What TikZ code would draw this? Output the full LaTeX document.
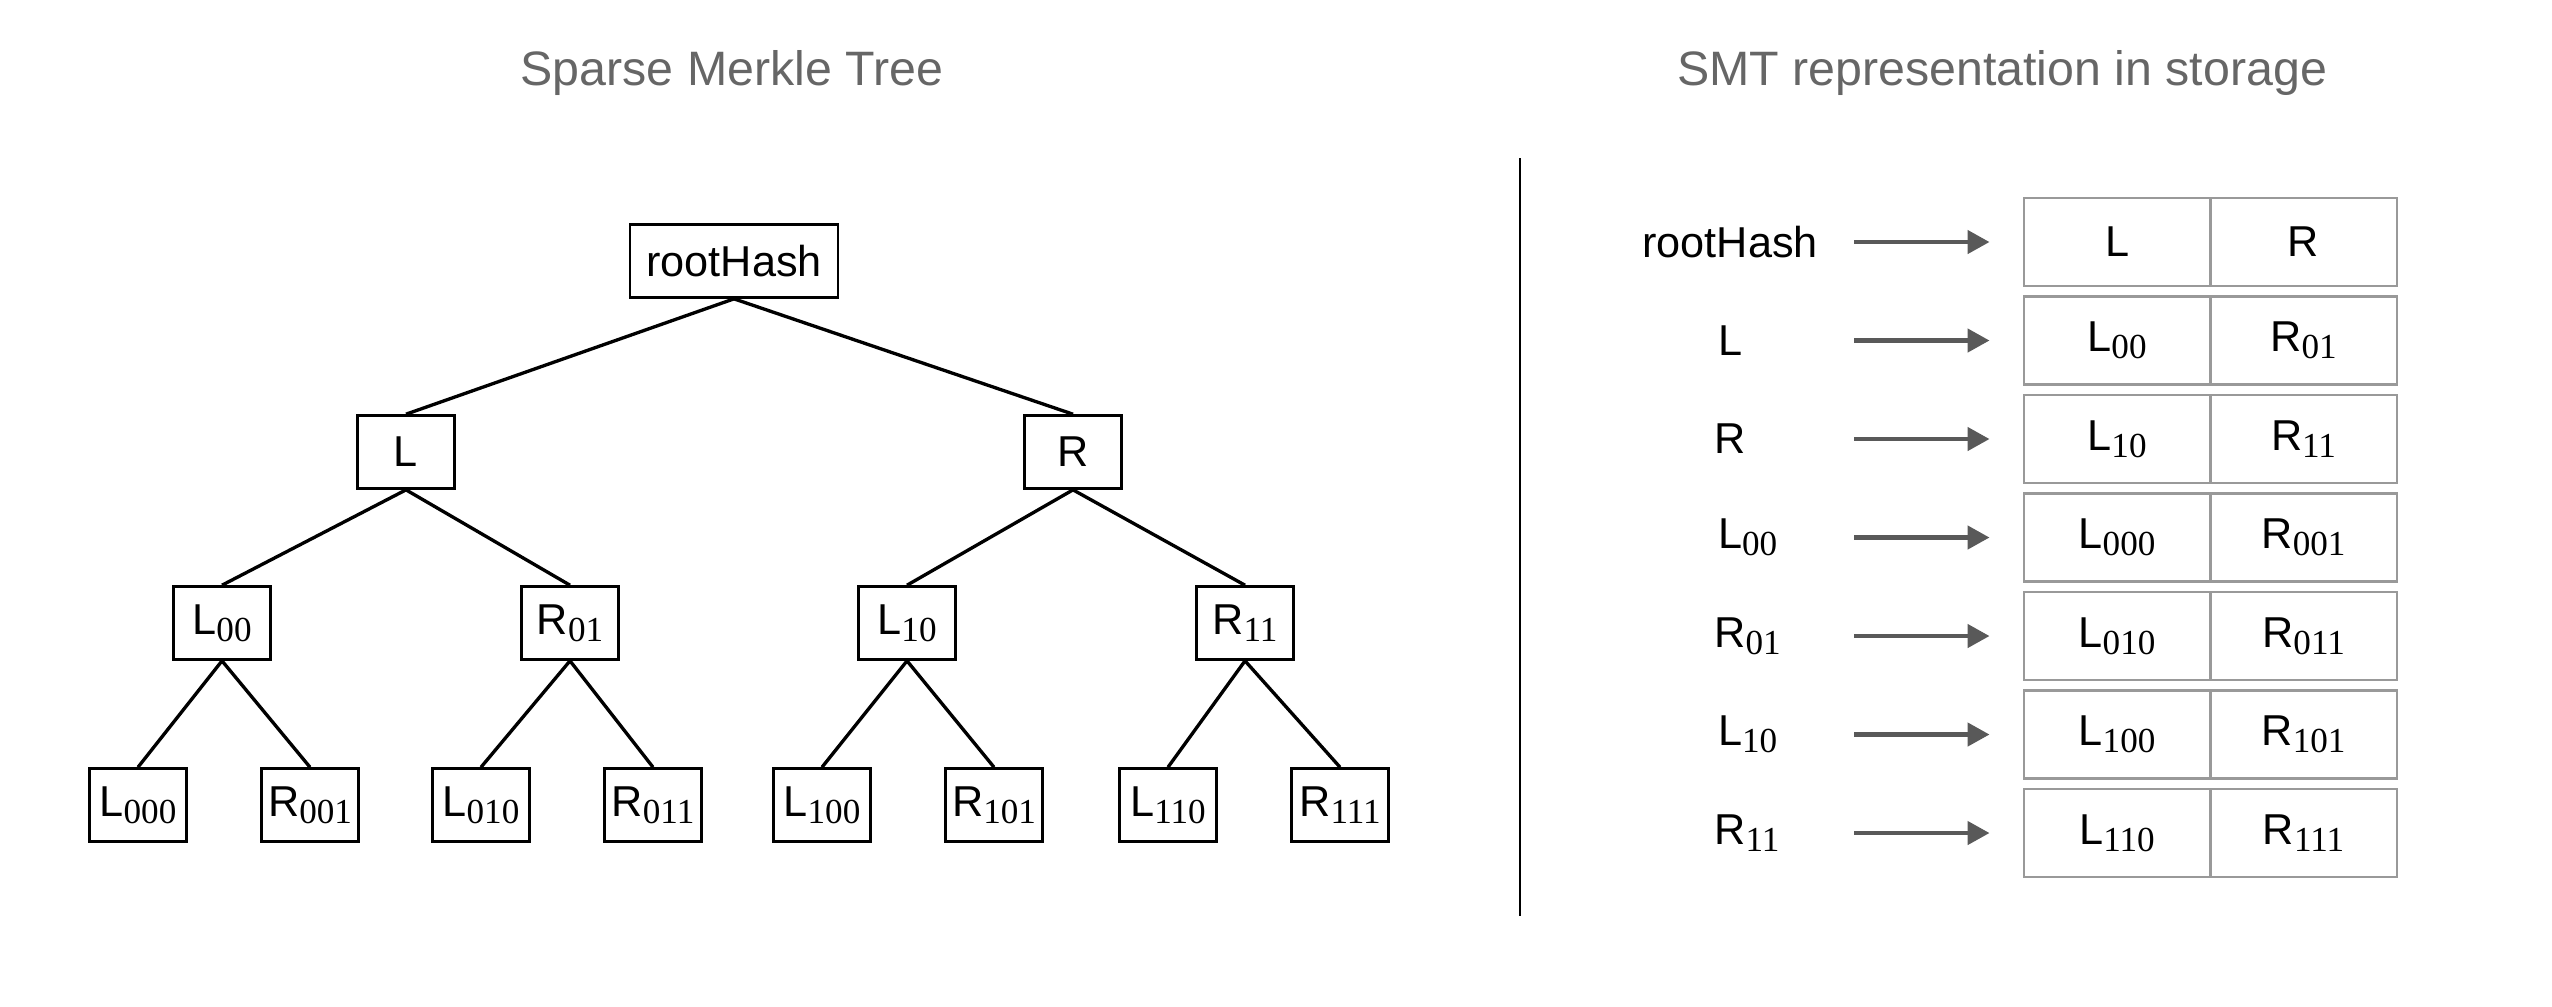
\documentclass[tikz,border=0pt]{standalone}
\usepackage{fontspec}
\setmainfont{Liberation Sans}
\newfontfamily\subserif{Liberation Serif}
\newcommand{\ix}[1]{\raisebox{-2pt}{\subserif\fontsize{10}{11}\selectfont #1}}
\usetikzlibrary{arrows.meta,positioning}

\begin{document}
\begin{tikzpicture}[
            font=\fontsize{12.3}{14}\selectfont
        ]
            \colorlet{ttx}{black!60}
            \colorlet{arx}{black!65}
            \colorlet{cex}{black!40}

            \useasboundingbox (0,0) rectangle (25.52,-10.06);

            \node (t1) at (7.32,-0.73)  [ttx,font=\fontsize{13.75}{16}\selectfont] {Sparse Merkle Tree};
            \node (t2) at (20.02,-0.73) [ttx,font=\fontsize{13.75}{16}\selectfont] {SMT representation in storage};

            % tree
            \begin{scope}[
                every node/.style={draw,line width=0.75pt,minimum width=9.7mm,minimum height=7.3mm,inner sep=1pt}
            ]
                \node (root) at (7.34,-2.61) [minimum width=20.8mm] {rootHash};
                \node (L)    at (4.06,-4.52)  {L};
                \node (R)    at (10.73,-4.52) {R};
                \node (L00)  at (2.22,-6.23)  {L\ix{00}};
                \node (R01)  at (5.70,-6.23)  {R\ix{01}};
                \node (L10)  at (9.07,-6.23)  {L\ix{10}};
                \node (R11)  at (12.45,-6.23) {R\ix{11}};
                \node (L000) at (1.38,-8.05)  {L\ix{000}};
                \node (R001) at (3.10,-8.05)  {R\ix{001}};
                \node (L010) at (4.81,-8.05)  {L\ix{010}};
                \node (R011) at (6.53,-8.05)  {R\ix{011}};
                \node (L100) at (8.22,-8.05)  {L\ix{100}};
                \node (R101) at (9.94,-8.05)  {R\ix{101}};
                \node (L110) at (11.68,-8.05) {L\ix{110}};
                \node (R111) at (13.40,-8.05) {R\ix{111}};
            \end{scope}
            \begin{scope}[line width=0.95pt]
                \draw (root.south) -- (L.north);
                \draw (root.south) -- (R.north);
                \draw (L.south) -- (L00.north);
                \draw (L.south) -- (R01.north);
                \draw (R.south) -- (L10.north);
                \draw (R.south) -- (R11.north);
                \draw (L00.south) -- (L000.north);
                \draw (L00.south) -- (R001.north);
                \draw (R01.south) -- (L010.north);
                \draw (R01.south) -- (R011.north);
                \draw (L10.south) -- (L100.north);
                \draw (L10.south) -- (R101.north);
                \draw (R11.south) -- (L110.north);
                \draw (R11.south) -- (R111.north);
            \end{scope}

            \draw [line width=0.6pt] (15.20,-1.58) -- (15.20,-9.16);

            % storage
            \begin{scope}[
                node distance=-0.7pt,
                every node/.style={draw=cex,line width=0.7pt,minimum width=18.65mm,minimum height=8.8mm,inner sep=1pt}
            ]
                \node (a1) at (21.17,-2.42)  {L};
                \node (b1) [right=of a1]     {R};
                \node (a2) at (21.17,-3.405) {L\ix{00}};
                \node (b2) [right=of a2]     {R\ix{01}};
                \node (a3) at (21.17,-4.39)  {L\ix{10}};
                \node (b3) [right=of a3]     {R\ix{11}};
                \node (a4) at (21.17,-5.375) {L\ix{000}};
                \node (b4) [right=of a4]     {R\ix{001}};
                \node (a5) at (21.17,-6.36)  {L\ix{010}};
                \node (b5) [right=of a5]     {R\ix{011}};
                \node (a6) at (21.17,-7.345) {L\ix{100}};
                \node (b6) [right=of a6]     {R\ix{101}};
                \node (a7) at (21.17,-8.33)  {L\ix{110}};
                \node (b7) [right=of a7]     {R\ix{111}};
            \end{scope}
            \node (k1) at (17.30,-2.42)  {rootHash};
            \node (k2) at (17.30,-3.405) {L};
            \node (k3) at (17.30,-4.39)  {R};
            \node (k4) at (17.30,-5.375) {L\rlap{\ix{00}}};
            \node (k5) at (17.30,-6.36)  {R\rlap{\ix{01}}};
            \node (k6) at (17.30,-7.345) {L\rlap{\ix{10}}};
            \node (k7) at (17.30,-8.33)  {R\rlap{\ix{11}}};
            \coordinate (s1) at (18.54,-2.42);
            \coordinate (s2) at (18.54,-3.405);
            \coordinate (s3) at (18.54,-4.39);
            \coordinate (s4) at (18.54,-5.375);
            \coordinate (s5) at (18.54,-6.36);
            \coordinate (s6) at (18.54,-7.345);
            \coordinate (s7) at (18.54,-8.33);
            \begin{scope}[arx,line width=1.3pt,shorten >=3.3mm]
                \draw [-{Triangle[length=2.2mm,width=2.3mm]}] (s1) -- (a1.west);
                \draw [-{Triangle[length=2.2mm,width=2.3mm]}] (s2) -- (a2.west);
                \draw [-{Triangle[length=2.2mm,width=2.3mm]}] (s3) -- (a3.west);
                \draw [-{Triangle[length=2.2mm,width=2.3mm]}] (s4) -- (a4.west);
                \draw [-{Triangle[length=2.2mm,width=2.3mm]}] (s5) -- (a5.west);
                \draw [-{Triangle[length=2.2mm,width=2.3mm]}] (s6) -- (a6.west);
                \draw [-{Triangle[length=2.2mm,width=2.3mm]}] (s7) -- (a7.west);
            \end{scope}
        \end{tikzpicture}
\end{document}
